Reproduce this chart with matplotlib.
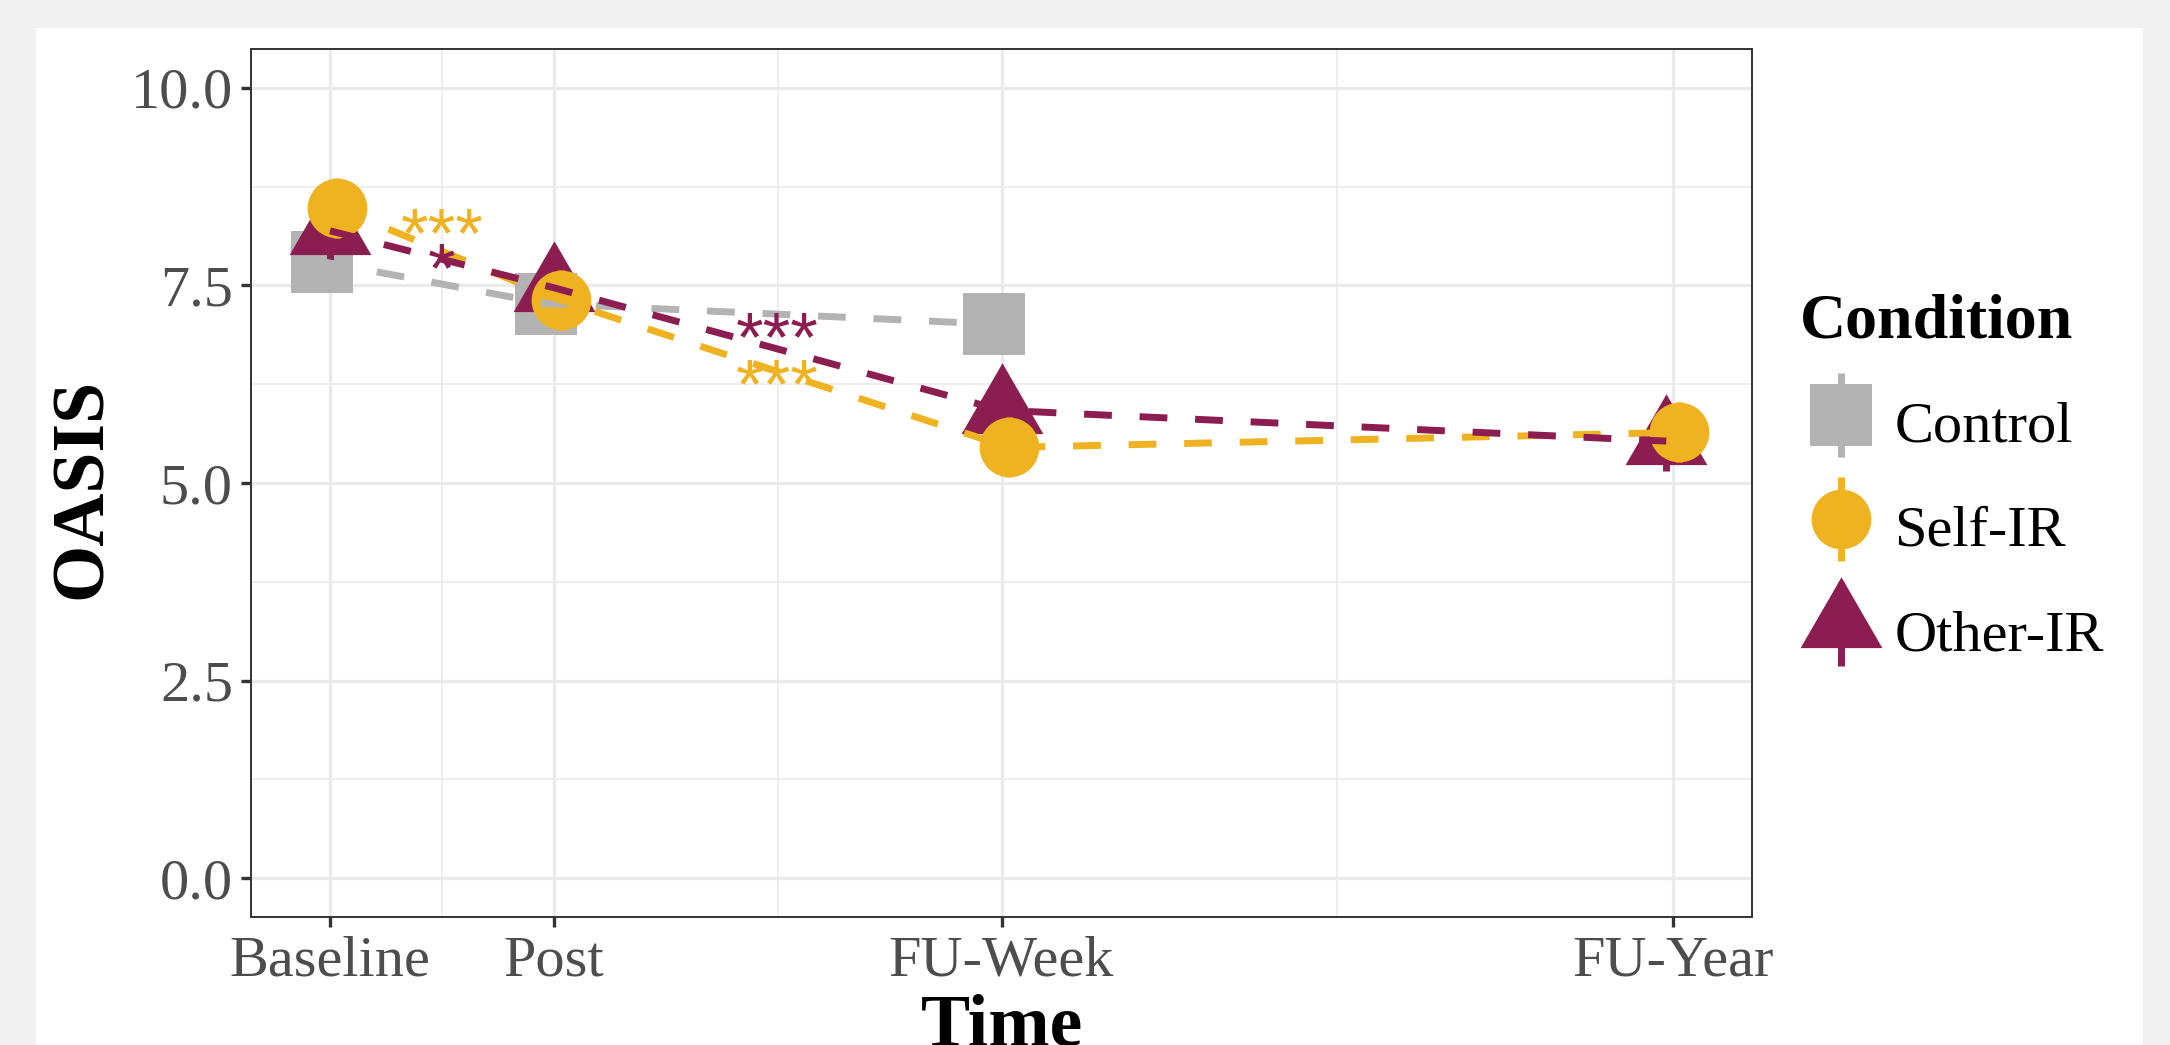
import numpy as np
import matplotlib
matplotlib.use("Agg")
import matplotlib.pyplot as plt
from matplotlib.lines import Line2D
from matplotlib.patches import Rectangle
from matplotlib.legend_handler import HandlerTuple

plt.rcParams['font.family'] = ['Liberation Serif', 'DejaVu Serif']

# data
time_labels = ['Baseline', 'Post', 'FU-Week', 'FU-Year']
time_pos = [1, 2, 4, 7]
groups = ['Control', 'Self-IR', 'Other-IR']
control = [7.80, 7.27, 7.01]
self_ir = [8.48, 7.31, 5.45, 5.64]
other_ir = [8.19, 7.47, 5.92, 5.53]
se = 0.38  # error bars mostly hidden behind the markers

# significance marks: (x, y, text, group)
sig_x = [1.5, 1.5, 3.0, 3.0]
sig_y = [8.30, 7.85, 6.98, 6.39]
sig_txt = ['***', '*', '***', '***']
sig_grp = ['Self-IR', 'Other-IR', 'Other-IR', 'Self-IR']

cols = {'Control': '#b3b3b3', 'Self-IR': '#efb221', 'Other-IR': '#8c1d50'}
# dodge offsets
dodge = {'Control': [-0.035, -0.035, -0.035],
         'Self-IR': [0.032, 0.032, 0.032, 0.025],
         'Other-IR': [0.0, 0.0, 0.0, -0.03]}
values = {'Control': control, 'Self-IR': self_ir, 'Other-IR': other_ir}

tri = [(0, 1), (-0.866, -0.5), (0.866, -0.5)]
markers = {'Control': ('s', 44), 'Self-IR': ('o', 43), 'Other-IR': (tri, 68)}
pt_z = {'Control': 3, 'Other-IR': 4, 'Self-IR': 5}
ln_z = {'Control': 6, 'Self-IR': 7, 'Other-IR': 8}

fig = plt.figure(figsize=(21.7, 10.45), dpi=100, facecolor='#f1f1f1')
fig.patches.append(Rectangle((36/2170, 0), (2143-36)/2170, (1045-28)/1045,
                             transform=fig.transFigure, facecolor='white',
                             edgecolor='none', zorder=-5))
ax = fig.add_axes([251/2170, 1-917/1045, (1752-251)/2170, (917-49)/1045])

for g in groups:
    y = np.array(values[g])
    x = np.array(time_pos[:len(y)]) + np.array(dodge[g])
    m, ms = markers[g]
    ax.errorbar(x, y, yerr=se, fmt='none', ecolor=cols[g], elinewidth=5,
                capsize=0, zorder=pt_z[g] - 0.5)
    ax.plot(x, y, linestyle='none', marker=m, markersize=ms, color=cols[g],
            markeredgewidth=0, zorder=pt_z[g])
    ax.plot(x, y, linestyle=(0, (4, 4)), lw=5, color=cols[g], zorder=ln_z[g],
            solid_capstyle='butt', dash_capstyle='butt')

for x, y, t, g in zip(sig_x, sig_y, sig_txt, sig_grp):
    ax.annotate(t, (x, y), xytext=(0, -25), textcoords='offset points',
                ha='center', va='baseline', fontsize=51, color=cols[g],
                family='Liberation Sans', zorder=10)

ax.set_xlim(0.647, 7.353)
ax.set_ylim(-0.49, 10.49)
ax.set_xticks(time_pos)
ax.set_xticklabels(time_labels)
ax.set_xticks([1.5, 3.0, 5.5], minor=True)
ax.set_yticks([0, 2.5, 5.0, 7.5, 10.0])
ax.set_yticklabels(['0.0', '2.5', '5.0', '7.5', '10.0'])
ax.set_yticks([1.25, 3.75, 6.25, 8.75], minor=True)
ax.grid(which='major', color='#ebebeb', lw=2.4, zorder=0)
ax.grid(which='minor', color='#ebebeb', lw=1.2, zorder=0)
ax.set_axisbelow(True)
ax.tick_params(which='major', length=7, width=2.4, color='#333333',
               labelsize=42, labelcolor='#4d4d4d', pad=6)
ax.tick_params(which='minor', length=0)
for s in ax.spines.values():
    s.set_color('#333333')
    s.set_linewidth(1.4)

ax.set_ylabel('OASIS', fontsize=53, fontweight='bold', va='center')
ax.yaxis.set_label_coords(-0.112, 0.494)
ax.set_xlabel('Time', fontsize=53, fontweight='bold', va='baseline')
ax.xaxis.set_label_coords(0.5, -0.1475)

handles = []
for g in groups:
    m, ms = markers[g]
    bar = Line2D([], [], linestyle='none', marker='|', markersize=60,
                 markeredgewidth=5, color=cols[g])
    mk = Line2D([], [], linestyle='none', marker=m, markersize=ms,
                markeredgewidth=0, color=cols[g])
    handles.append((bar, mk))

leg = ax.legend(handles, groups, handler_map={tuple: HandlerTuple(ndivide=1, pad=0)},
                loc='upper left', bbox_to_anchor=(1800/2170, 1-294/1045),
                bbox_transform=fig.transFigure, frameon=False, fontsize=42,
                title='Condition', title_fontproperties={'size': 46, 'weight': 'bold'},
                alignment='left', numpoints=1, handlelength=1.4, handleheight=1.4,
                handletextpad=0.22, labelspacing=0.63, borderpad=0, borderaxespad=0)

fig.savefig('out.png', dpi=100, facecolor=fig.get_facecolor())
